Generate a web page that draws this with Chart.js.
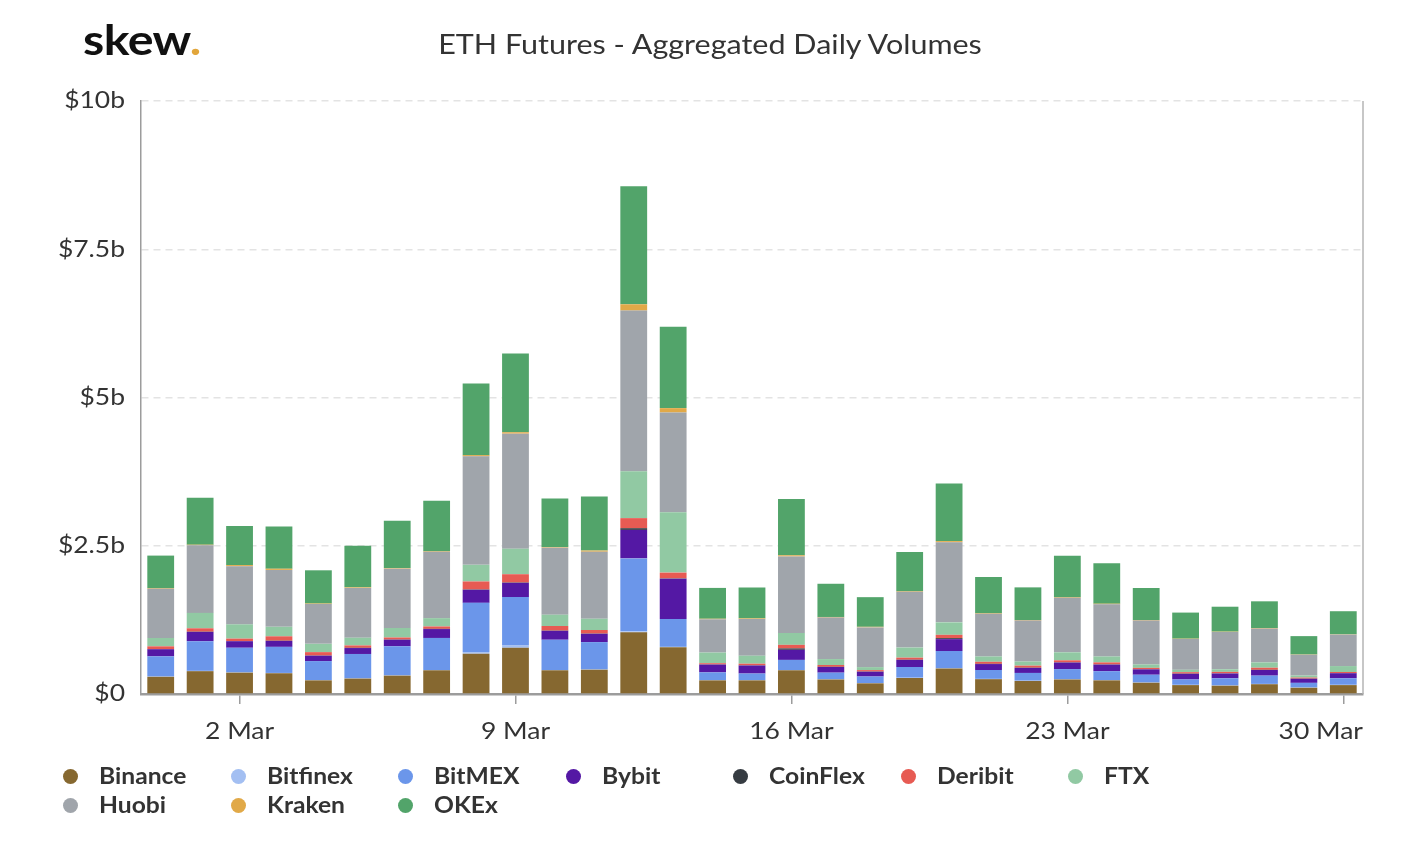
<!DOCTYPE html>
<html>
<head>
<meta charset="utf-8">
<script src="https://cdn.jsdelivr.net/npm/chart.js@4"></script>
<style>
  body { margin: 0; background: #fff; font-family: Lato, 'Open Sans', sans-serif; }
  #wrap { position: relative; width: 1420px; height: 844px; }
  #chart-box { position: absolute; left: 0; top: 0; width: 1420px; height: 844px; }
  .logo { position: absolute; left: 83px; top: 14px; font-size: 42px; font-weight: bold; color: #111; letter-spacing: -0.5px;
    transform: scaleX(1.15); transform-origin: left center; }
  .logo span { color: #e2a63b; }
  .title { position: absolute; left: 0; top: 27px; width: 1420px; text-align: center; font-size: 27px; color: #333;
    transform: scaleX(1.13); transform-origin: 710px center; }
  .legend-item { position: absolute; font-size: 22px; font-weight: bold; color: #333; line-height: 26px; white-space: nowrap; }
  .legend-item span { display: inline-block; transform: scaleX(1.12); transform-origin: left center; }
  .legend-item i { position: absolute; left: -36px; top: 6px; width: 15px; height: 15px; border-radius: 50%; }
</style>
</head>
<body>
<div id="wrap">
  <div id="chart-box"><canvas id="eth-chart"></canvas></div>
  <div class="logo">skew<span>.</span></div>
  <div class="title">ETH Futures - Aggregated Daily Volumes</div>
  <div id="legend"></div>
</div>
<script>
'use strict';

// Daily volumes in $ billions, 29 Feb .. 30 Mar
var days = ['29 Feb', '1 Mar', '2 Mar', '3 Mar', '4 Mar', '5 Mar', '6 Mar', '7 Mar', '8 Mar', '9 Mar',
  '10 Mar', '11 Mar', '12 Mar', '13 Mar', '14 Mar', '15 Mar', '16 Mar', '17 Mar', '18 Mar', '19 Mar',
  '20 Mar', '21 Mar', '22 Mar', '23 Mar', '24 Mar', '25 Mar', '26 Mar', '27 Mar', '28 Mar', '29 Mar', '30 Mar'];
var tickLabels = ['2 Mar', '9 Mar', '16 Mar', '23 Mar', '30 Mar'];
var yTicks = [0, 2.5, 5, 7.5, 10];
var yTickLabels = ['$0', '$2.5b', '$5b', '$7.5b', '$10b'];

var binance = [0.29, 0.385, 0.36, 0.35, 0.23, 0.26, 0.31, 0.40, 0.68, 0.78, 0.40, 0.41, 1.04, 0.79, 0.23, 0.23,
  0.40, 0.245, 0.18, 0.27, 0.43, 0.25, 0.22, 0.245, 0.23, 0.19, 0.15, 0.14, 0.165, 0.105, 0.15];
var bitfinex = [0.005, 0.005, 0.005, 0.005, 0.005, 0.005, 0.005, 0.005, 0.027, 0.044, 0.005, 0.005, 0.017, 0.005, 0.005, 0.005,
  0.005, 0.005, 0.005, 0.005, 0.005, 0.005, 0.005, 0.005, 0.005, 0.005, 0.005, 0.005, 0.005, 0.005, 0.005];
var bitmex = [0.34, 0.50, 0.415, 0.44, 0.32, 0.41, 0.49, 0.54, 0.83, 0.81, 0.51, 0.46, 1.23, 0.47, 0.13, 0.11,
  0.17, 0.11, 0.11, 0.18, 0.29, 0.15, 0.13, 0.17, 0.15, 0.13, 0.09, 0.12, 0.14, 0.078, 0.11];
var bybit = [0.12, 0.157, 0.11, 0.10, 0.09, 0.10, 0.11, 0.15, 0.22, 0.24, 0.15, 0.14, 0.48, 0.68, 0.13, 0.135,
  0.17, 0.095, 0.08, 0.12, 0.20, 0.10, 0.085, 0.11, 0.11, 0.09, 0.095, 0.08, 0.095, 0.068, 0.085];
var coinflex = [0.004, 0.004, 0.004, 0.004, 0.004, 0.004, 0.004, 0.004, 0.006, 0.006, 0.004, 0.004, 0.029, 0.006, 0.004, 0.004,
  0.024, 0.004, 0.004, 0.004, 0.017, 0.004, 0.004, 0.004, 0.004, 0.004, 0.004, 0.004, 0.004, 0.004, 0.004];
var deribit = [0.045, 0.057, 0.04, 0.074, 0.057, 0.04, 0.034, 0.04, 0.135, 0.14, 0.078, 0.06, 0.17, 0.096, 0.02, 0.027,
  0.06, 0.03, 0.024, 0.034, 0.056, 0.034, 0.034, 0.034, 0.034, 0.022, 0.024, 0.024, 0.034, 0.017, 0.017];
var ftx = [0.14, 0.26, 0.24, 0.16, 0.14, 0.13, 0.16, 0.14, 0.28, 0.43, 0.19, 0.19, 0.79, 1.02, 0.18, 0.135,
  0.20, 0.10, 0.05, 0.17, 0.21, 0.09, 0.07, 0.135, 0.10, 0.057, 0.04, 0.044, 0.09, 0.034, 0.10];
var huobi = [0.83, 1.14, 0.98, 0.96, 0.67, 0.84, 1.00, 1.12, 1.83, 1.94, 1.13, 1.13, 2.71, 1.68, 0.56, 0.62,
  1.29, 0.70, 0.67, 0.94, 1.35, 0.72, 0.69, 0.92, 0.88, 0.74, 0.52, 0.63, 0.57, 0.35, 0.53];
var kraken = [0.01, 0.01, 0.02, 0.02, 0.01, 0.01, 0.01, 0.01, 0.02, 0.024, 0.01, 0.02, 0.106, 0.074, 0.01, 0.01,
  0.02, 0.01, 0.01, 0.01, 0.02, 0.01, 0.01, 0.01, 0.01, 0.01, 0.005, 0.005, 0.01, 0.005, 0.005];
var okex = [0.55, 0.79, 0.66, 0.71, 0.56, 0.70, 0.80, 0.85, 1.21, 1.33, 0.82, 0.91, 1.99, 1.37, 0.52, 0.52,
  0.95, 0.56, 0.50, 0.66, 0.97, 0.61, 0.55, 0.70, 0.68, 0.54, 0.44, 0.42, 0.45, 0.31, 0.39];

var series = [
  { label: 'Binance', data: binance, color: '#866830' },
  { label: 'Bitfinex', data: bitfinex, color: '#a3bff2' },
  { label: 'BitMEX', data: bitmex, color: '#6b96ea' },
  { label: 'Bybit', data: bybit, color: '#5418a4' },
  { label: 'CoinFlex', data: coinflex, color: '#363c42' },
  { label: 'Deribit', data: deribit, color: '#e75b53' },
  { label: 'FTX', data: ftx, color: '#91c9a3' },
  { label: 'Huobi', data: huobi, color: '#a0a5ab' },
  { label: 'Kraken', data: kraken, color: '#e1a948' },
  { label: 'OKEx', data: okex, color: '#52a46a' },
];

var AXIS_GREY = '#9c9c9c';
var FONT = 'Lato, "Open Sans", sans-serif';
var STRETCH = 1.15; // the original's text is set a bit wide

function wideText(ctx, text, x, y, align) {
  var w = ctx.measureText(text).width * STRETCH;
  var left = align === 'right' ? x - w : x - w / 2;
  ctx.save();
  ctx.translate(left, y);
  ctx.scale(STRETCH, 1);
  ctx.textAlign = 'left';
  ctx.fillText(text, 0, 0);
  ctx.restore();
  return w;
}

// axis labels drawn by hand: wide text, last x label kept inside the plot
var axisLabelsPlugin = {
  id: 'axisLabels',
  afterDraw: function(chart) {
    var ctx = chart.ctx;
    var xs = chart.scales.x;
    var ys = chart.scales.y;
    var area = chart.chartArea;
    ctx.save();
    // right frame line
    ctx.strokeStyle = '#b5b5b5';
    ctx.lineWidth = 1.5;
    ctx.beginPath();
    ctx.moveTo(area.right, area.top);
    ctx.lineTo(area.right, area.bottom);
    ctx.stroke();

    ctx.font = '23px ' + FONT;
    ctx.fillStyle = '#333';
    ctx.textBaseline = 'middle';
    tickLabels.forEach(function(lbl) {
      var x = xs.getPixelForValue(days.indexOf(lbl));
      var w = ctx.measureText(lbl).width * STRETCH;
      if (x + w / 2 > area.right) x = area.right - w / 2;
      wideText(ctx, lbl, x, area.bottom + 38, 'center');
    });
    yTicks.forEach(function(v, i) {
      wideText(ctx, yTickLabels[i], area.left - 16, ys.getPixelForValue(v), 'right');
    });
    ctx.restore();
  },
};

function buildLegend() {
  var box = document.getElementById('legend');
  box.innerHTML = series.map(function(s, i) {
    var col = i % 7, row = Math.floor(i / 7);
    var left = 99 + col * 167.5;
    var top = 763 + row * 29;
    return '<div class="legend-item" style="left:' + left + 'px;top:' + top + 'px">' +
      '<i style="background:' + s.color + '"></i><span>' + s.label + '</span></div>';
  }).join('');
}

function renderChart() {
  var canvas = document.getElementById('eth-chart');
  new Chart(canvas, {
    type: 'bar',
    data: {
      labels: days,
      datasets: series.map(function(s) {
        return {
          label: s.label,
          data: s.data,
          backgroundColor: s.color,
          borderWidth: 0,
          barPercentage: 0.68,
          categoryPercentage: 1,
        };
      }),
    },
    options: {
      responsive: true,
      maintainAspectRatio: false,
      animation: false,
      layout: { padding: { top: 101, right: 57, bottom: 0, left: 0 } },
      plugins: {
        legend: { display: false },
        tooltip: { enabled: false },
      },
      scales: {
        x: {
          stacked: true,
          afterFit: function(scale) { scale.height = 150; },
          ticks: { display: false, autoSkip: false },
          grid: {
            offset: false,
            drawOnChartArea: false,
            drawTicks: true,
            tickLength: 10,
            lineWidth: 1.5,
            color: function(c) {
              return tickLabels.indexOf(days[c.index]) >= 0 ? AXIS_GREY : 'rgba(0,0,0,0)';
            },
          },
          border: { display: true, color: AXIS_GREY, width: 2.5 },
        },
        y: {
          stacked: true,
          min: 0,
          max: 10,
          afterFit: function(scale) { scale.width = 141; },
          afterBuildTicks: function(scale) {
            scale.ticks = yTicks.map(function(v) { return { value: v }; });
          },
          ticks: { display: false },
          grid: {
            drawTicks: false,
            color: function(c) { return c.tick && c.tick.value === 0 ? 'rgba(0,0,0,0)' : '#e3e3e3'; },
            lineWidth: 1.5,
          },
          border: { display: true, color: AXIS_GREY, width: 1.5, dash: [7, 5] },
        },
      },
    },
    plugins: [axisLabelsPlugin],
  });
}

buildLegend();
renderChart();
</script>
</body>
</html>
